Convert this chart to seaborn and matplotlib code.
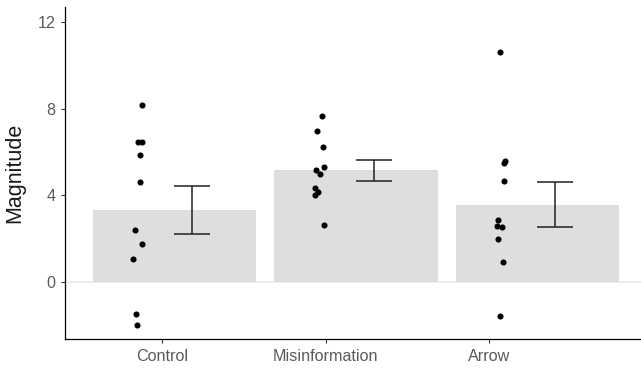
import numpy as np
import pandas as pd
import matplotlib.pyplot as plt
import seaborn as sns

# values
groups = ["Control", "Misinformation", "Arrow"]
control = [8.18, 6.45, 6.45, 5.88, 4.62, 2.42, 1.77, 1.06, -1.48, -1.97]
misinformation = [7.68, 6.97, 6.22, 5.32, 5.15, 4.98, 4.35, 4.17, 4.00, 2.65]
arrow = [10.60, 5.57, 5.48, 4.65, 2.85, 2.58, 2.54, 1.98, 0.94, -1.55]
yticks = [0, 4, 8, 12]

df = pd.DataFrame({
    "Condition": ["Control"] * len(control) + ["Misinformation"] * len(misinformation) + ["Arrow"] * len(arrow),
    "Magnitude": control + misinformation + arrow,
})
summary = df.groupby("Condition")["Magnitude"].agg(["mean", "sem"]).reindex(groups)

sns.set_style("ticks")
plt.rcParams["font.family"] = ["Liberation Sans", "DejaVu Sans"]

fig = plt.figure(figsize=(6.41, 3.71), dpi=100)
ax = fig.add_axes([0.1014, 0.0854, 0.8986, 0.8957])

ax.axhline(0, color="#EBEBEB", lw=1.4, zorder=0)

sns.barplot(data=df, x="Condition", y="Magnitude", order=groups, errorbar=None,
            color="#DEDEDE", saturation=1, width=0.9, linewidth=0, ax=ax, zorder=1)

# points, shifted to the left of each bar
n_before = len(ax.collections)
np.random.seed(4)
sns.stripplot(data=df, x="Condition", y="Magnitude", order=groups, color="black",
              size=4.4, jitter=0.025, linewidth=0, ax=ax, zorder=3)
for coll in ax.collections[n_before:]:
    coll.set_offsets(coll.get_offsets() + np.array([-0.2, 0.0]))

# mean +/- standard error, shifted to the right
ax.errorbar(np.arange(len(groups)) + 0.1, summary["mean"], yerr=summary["sem"],
            fmt="none", ecolor="#222222", elinewidth=1.1, capsize=13, capthick=1.1, zorder=4)

ax.set_xlim(-0.602, 2.571)
ax.set_ylim(-2.645, 12.69)
ax.set_yticks(yticks)
ax.set_xticks(np.arange(len(groups)) * 0.9 - 0.066, groups)

for side in ["top", "right"]:
    ax.spines[side].set_visible(False)
for side in ["left", "bottom"]:
    ax.spines[side].set_color("black")
    ax.spines[side].set_linewidth(0.9)

ax.tick_params(axis="both", length=3, width=0.8, color="#333333",
               labelcolor="#5A5A5A", labelsize=11.6, pad=4)
ax.set_xlabel("")
ax.set_ylabel("Magnitude", fontsize=15.5, color="#1A1A1A")
ax.yaxis.set_label_coords(-0.069, 0.5)

fig.savefig("out.png", dpi=100)
